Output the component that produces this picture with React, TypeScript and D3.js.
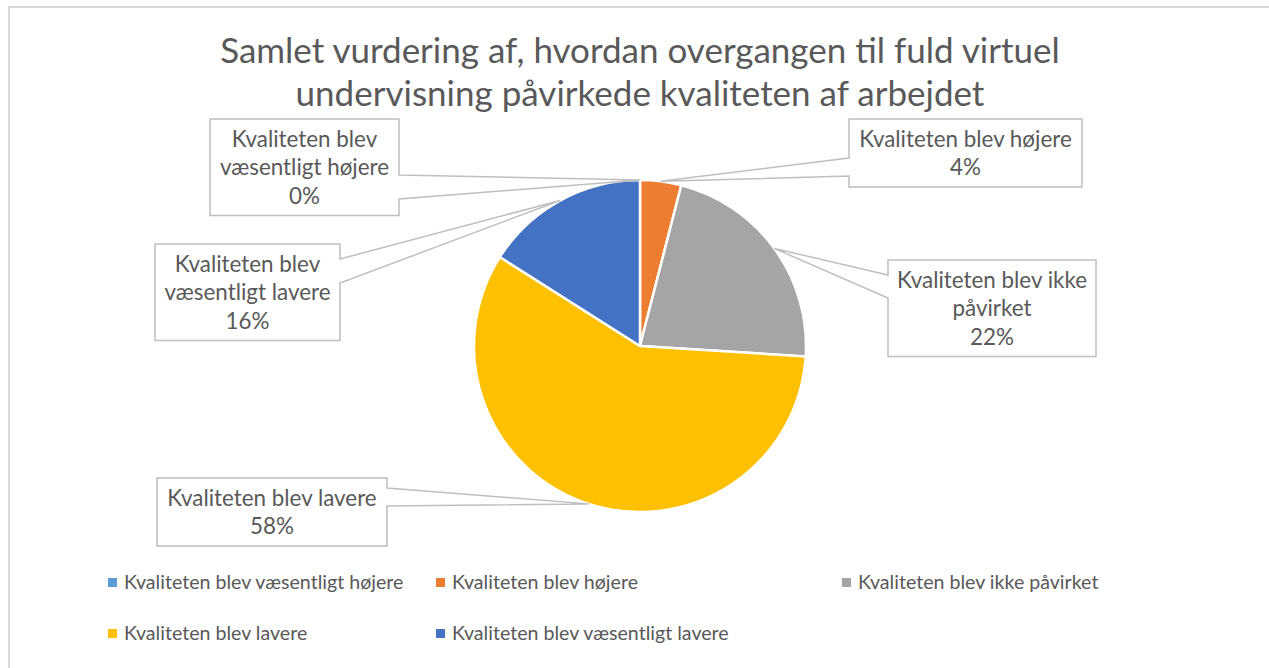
import React from "react";
import * as d3 from "d3";

const categories = [
  "Kvaliteten blev væsentligt højere",
  "Kvaliteten blev højere",
  "Kvaliteten blev ikke påvirket",
  "Kvaliteten blev lavere",
  "Kvaliteten blev væsentligt lavere",
];
const values = [0, 4, 22, 58, 16];
const colors = ["#5B9BD5", "#ED7D31", "#A5A5A5", "#FFC000", "#4472C4"];
const labelLines = [
  ["Kvaliteten blev", "væsentligt højere"],
  ["Kvaliteten blev højere"],
  ["Kvaliteten blev ikke", "påvirket"],
  ["Kvaliteten blev lavere"],
  ["Kvaliteten blev", "væsentligt lavere"],
];
const titleLines = [
  "Samlet vurdering af, hvordan overgangen til fuld virtuel",
  "undervisning påvirkede kvaliteten af arbejdet",
];

// layout (positions of callout boxes, wedge attach offsets, side)
const boxLayout = [
  { x: 210, y: 119, w: 189, side: "right", a1: 56, a2: 80 },
  { x: 849, y: 119, w: 233, side: "left", a1: 39, a2: 57 },
  { x: 888, y: 260, w: 208, side: "left", a1: 15, a2: 38 },
  { x: 157, y: 478, w: 230, side: "right", a1: 10, a2: 28 },
  { x: 155, y: 244, w: 185, side: "right", a1: 15, a2: 39 },
];
const legendLayout = [
  { x: 108, y: 589 },
  { x: 436, y: 589 },
  { x: 842, y: 589 },
  { x: 108, y: 640 },
  { x: 436, y: 640 },
];

const W = 1269;
const H = 668;
const FONT = "Lato, 'Open Sans', sans-serif";
const TXT = "#595959";

export default function App() {
  const cx = 640;
  const cy = 346;
  const r = 166;
  const pie = d3.pie<number>().sort(null).value((d) => d);
  const arcs = pie(values);
  const arcGen = d3.arc<d3.PieArcDatum<number>>().innerRadius(0).outerRadius(r);
  const lineH = 28.5;

  return (
    <svg
      width={W}
      height={H}
      style={{ position: "absolute", left: 0, top: 0, background: "#fff" }}
      fontFamily={FONT}
    >
      <rect x={9} y={7} width={W + 20} height={H + 20} fill="#fff" stroke="#d9d9d9" strokeWidth={2} />
      {titleLines.map((t, i) => (
        <text key={i} x={640} y={63 + i * 43} textAnchor="middle" fontSize={35} fill={TXT}>
          {t}
        </text>
      ))}
      <g transform={`translate(${cx},${cy})`}>
        {arcs.map((a, i) => (
          <path key={i} d={arcGen(a) || ""} fill={colors[i]} stroke="#fff" strokeWidth={2.5} strokeLinejoin="round" />
        ))}
      </g>
      {arcs.map((a, i) => {
        const b = boxLayout[i];
        const mid = (a.startAngle + a.endAngle) / 2;
        const px = cx + r * Math.sin(mid);
        const py = cy - r * Math.cos(mid);
        const lines = [...labelLines[i], `${values[i]}%`];
        const h = lines.length * lineH + 11;
        const L = b.x, R = b.x + b.w, T = b.y, B = b.y + h;
        const d =
          b.side === "right"
            ? `M${L},${T}H${R}V${T + b.a1}L${px},${py}L${R},${T + b.a2}V${B}H${L}Z`
            : `M${L},${T}H${R}V${B}H${L}V${T + b.a2}L${px},${py}L${L},${T + b.a1}Z`;
        return (
          <g key={i}>
            <path d={d} fill="#fff" stroke="#bfbfbf" strokeWidth={1.5} strokeLinejoin="miter" />
            {lines.map((t, j) => (
              <text key={j} x={(L + R) / 2} y={T + 27.5 + j * lineH} textAnchor="middle" fontSize={22.4} fill={TXT}>
                {t}
              </text>
            ))}
          </g>
        );
      })}
      {categories.map((c, i) => {
        const p = legendLayout[i];
        return (
          <g key={i}>
            <rect x={p.x} y={p.y - 11} width={9} height={9} fill={colors[i]} />
            <text x={p.x + 16} y={p.y} fontSize={19.6} fill={TXT}>
              {c}
            </text>
          </g>
        );
      })}
    </svg>
  );
}
